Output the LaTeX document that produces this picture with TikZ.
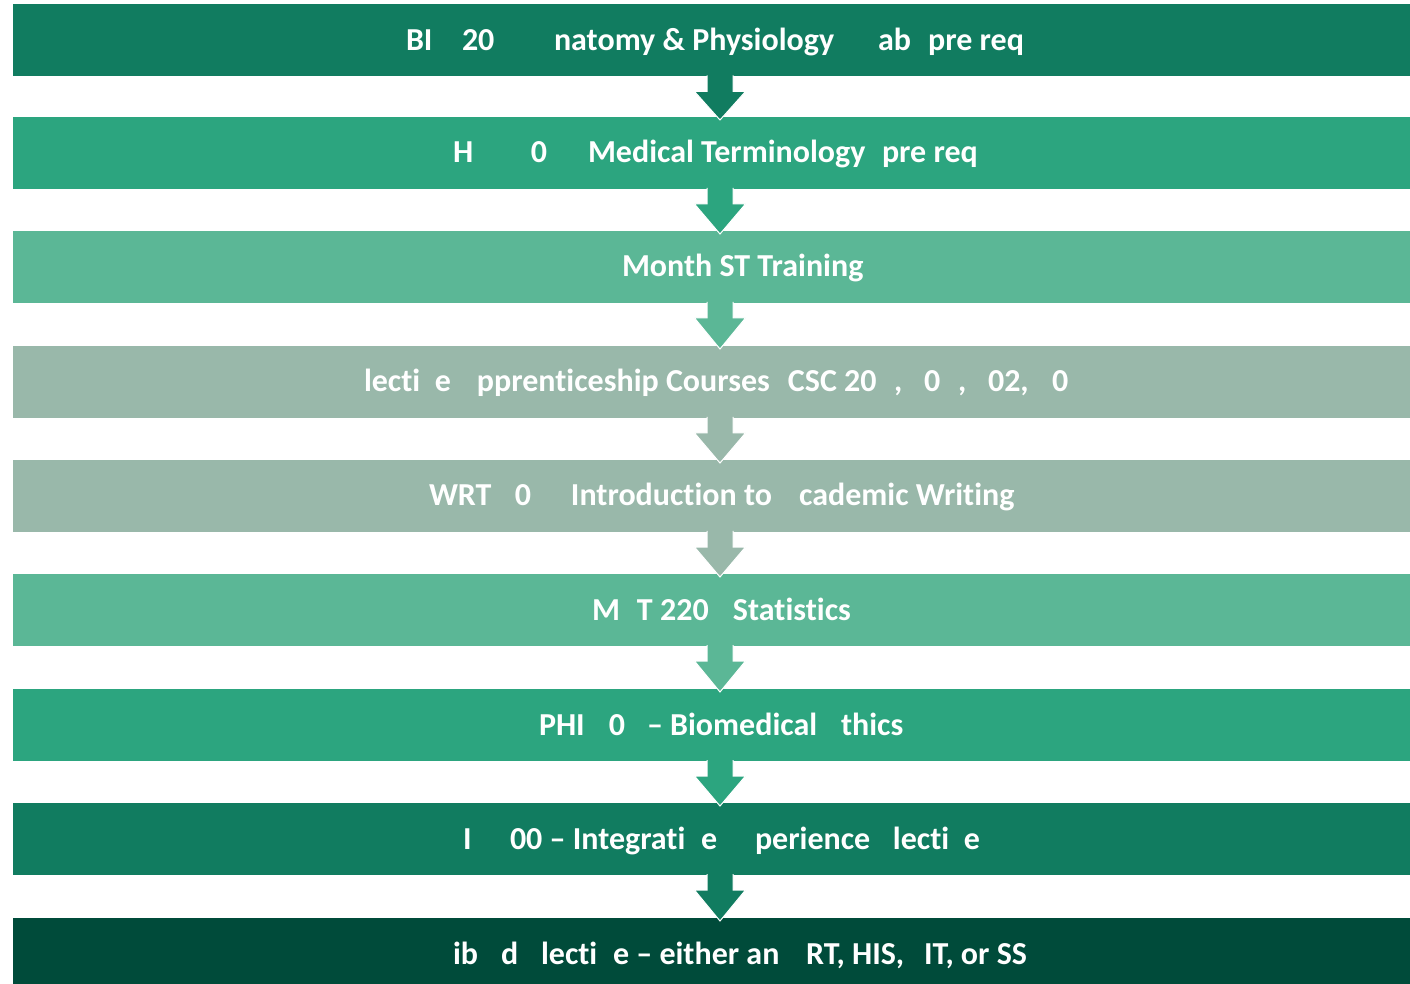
\documentclass[tikz,border=0pt]{standalone}
\usepackage{fontspec}
\setmainfont{Carlito}[Ligatures=NoCommon]
\usetikzlibrary{calc}
\definecolor{cA}{HTML}{117C60}
\definecolor{cB}{HTML}{2CA57F}
\definecolor{cC}{HTML}{5BB796}
\definecolor{cD}{HTML}{99B8AA}
\definecolor{cE}{HTML}{004B3A}
\newlength\pxu
\setlength\pxu{0.5pt}
\newcommand\seg[2]{\makebox[0pt][l]{\hspace*{#1\pxu}#2}}
\begin{document}
\begin{tikzpicture}[x=0.5pt,y=-0.5pt,
  bar/.style={anchor=north west, minimum width=698.5pt, minimum height=36pt, inner sep=0pt, outer sep=0pt, draw=none},
  lbl/.style={anchor=base west, inner sep=0pt, outer sep=0pt, text=white, font=\fontsize{16}{18}\selectfont\bfseries},
  arr/.style={fill=#1, draw=white, line width=0.5pt}]
\useasboundingbox (0,0) rectangle (1410,984);
\coordinate (ax) at (720,0);
% bars
\node[bar, fill=cA] (b1) at (13,4.5) {};
\node[bar, fill=cB] (b2) at (13,117) {};
\node[bar, fill=cC] (b3) at (13,231) {};
\node[bar, fill=cD] (b4) at (13,346) {};
\node[bar, fill=cD] (b5) at (13,460) {};
\node[bar, fill=cC] (b6) at (13,574) {};
\node[bar, fill=cB] (b7) at (13,689) {};
\node[bar, fill=cA] (b8) at (13,803) {};
\node[bar, fill=cE, minimum height=33pt] (b9) at (13,918) {};
% arrows
\newcommand\blockarrow[3]{%
  \path (b#1.south -| ax) coordinate (s#1) (b#2.north -| ax) coordinate (e#1);
  \filldraw[arr=#3] ($(s#1)+(-13,-1)$) -- ($(s#1)+(-13,15)$) -- ($(s#1)+(-25.5,15)$) -- ($(e#1)+(0,3)$)
     -- ($(s#1)+(25.5,15)$) -- ($(s#1)+(13,15)$) -- ($(s#1)+(13,-1)$);
}
\blockarrow{1}{2}{cA}
\blockarrow{2}{3}{cB}
\blockarrow{3}{4}{cC}
\blockarrow{4}{5}{cD}
\blockarrow{5}{6}{cD}
\blockarrow{6}{7}{cC}
\blockarrow{7}{8}{cB}
\blockarrow{8}{9}{cA}
% labels
\node[lbl] (t1) at (405,51) {\seg{0}{BI}\seg{56}{20}\seg{148}{natomy \& Physiology}\seg{472}{ab}\seg{522}{pre req}};
\node[lbl] (t2) at (452,163) {\seg{0}{H}\seg{78}{0}\seg{135}{Medical Terminology}\seg{429}{pre req}};
\node[lbl] (t3) at (621,277) {\seg{0}{Month ST Training}};
\node[lbl] (t4) at (363,392) {\seg{0}{lecti}\seg{71}{e}\seg{113}{pprenticeship Courses}\seg{424}{CSC 20}\seg{530}{,}\seg{560}{0}\seg{594}{,}\seg{624}{02,}\seg{688}{0}};
\node[lbl] (t5) at (428,506) {\seg{0}{WRT}\seg{86}{0}\seg{142}{Introduction to}\seg{370}{cademic Writing}};
\node[lbl] (t6) at (591,620) {\seg{0}{M}\seg{45}{T 220}\seg{141}{Statistics}};
\node[lbl] (t7) at (538,735) {\seg{0}{PHI}\seg{70}{0}\seg{108}{– Biomedical}\seg{302}{thics}};
\node[lbl] (t8) at (462,849) {\seg{0}{I}\seg{47}{00 – Integrati}\seg{238}{e}\seg{292}{perience}\seg{430}{lecti}\seg{501}{e}};
\node[lbl] (t9) at (452,964) {\seg{0}{ib}\seg{48}{d}\seg{88}{lecti}\seg{160}{e – either an}\seg{353}{RT, HIS,}\seg{471}{IT, or SS}};
\end{tikzpicture}
\end{document}
